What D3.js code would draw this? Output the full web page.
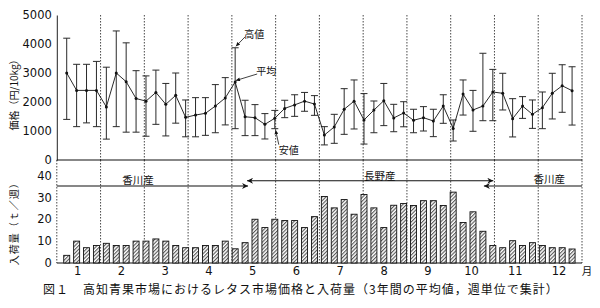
<!DOCTYPE html>
<html>
<head>
<meta charset="utf-8">
<script src="https://cdn.jsdelivr.net/npm/d3@7"></script>
<style>
  body { margin: 0; background: #fff; }
  text { font-family: "DejaVu Sans", "Noto Sans CJK JP", sans-serif; fill: #111; }
  .jp { font-family: "Noto Sans CJK JP", sans-serif; }
</style>
</head>
<body>
<div id="chart"></div>
<script>
// 週ごとの価格（円/10kg）：平均・高値・安値、52週
const avgPrice = [3000,2400,2400,2400,1830,3000,2700,2120,2030,2330,1920,2230,1470,1550,1610,1860,2140,2690,1490,1460,1230,1440,1780,1900,2030,1930,860,1140,1750,2030,1380,1720,2045,1450,1620,1370,1460,1345,1860,1090,2275,1725,1860,2345,2300,1425,1860,1575,1805,2300,2560,2390];
const highPrice = [4200,3300,3300,3400,3200,4450,4040,3080,2900,3100,2640,3000,2070,2150,2150,2600,2840,3870,2060,1910,1600,1710,2060,2250,2330,2220,1150,1575,2460,2760,2290,2035,2640,1920,2010,1750,1840,1750,2250,1380,2760,2400,3680,3125,2990,2115,2185,2070,2345,2990,3285,3215];
const lowPrice = [1400,1150,1280,1150,720,1150,960,960,820,1230,830,1270,800,800,850,940,1210,1080,840,840,725,1080,1460,1505,1680,1540,520,575,885,1070,550,940,1185,975,1145,940,1000,805,1265,655,1550,990,1355,1355,1725,795,1435,1090,1080,1415,1645,1205];
// 入荷量（t/週）
const volume = [3.5,10,7,8,9,8,8,10,10,11,10,8,7,7,8,8,10,6.5,9.3,20,16.2,20,19.4,19.4,16.2,21.2,30.4,25.2,29,22.3,31.3,25.2,16.2,26.4,27.2,26.3,28.5,28.5,26.3,32.4,18.5,23.4,14.5,8,7,10.2,8,9.3,8,7,7,6.4];

const months = ['1','2','3','4','5','6','7','8','9','10','11','12'];
const priceTicks = [0, 1000, 2000, 3000, 4000, 5000];
const volumeTicks = [0, 10, 20, 30, 40];

// 産地の区間（週の位置）
const origins = [
  { name: '香川産', from: 0, to: 19.3, level: 35.2, labelAt: 8.2, labelLevel: 38.4, arrowStart: false, arrowEnd: true },
  { name: '長野産', from: 19.2, to: 44.05, level: 37.6, labelAt: 32.6, labelLevel: 40.2, arrowStart: true, arrowEnd: true },
  { name: '香川産', from: 43.1, to: 53, level: 35.2, labelAt: 49.7, labelLevel: 38.6, arrowStart: true, arrowEnd: false }
];

const width = 600, height = 308;
const nWeeks = avgPrice.length;

const svg = d3.select('#chart').append('svg')
  .attr('width', width).attr('height', height);

const defs = svg.append('defs');
const hatch = defs.append('pattern')
  .attr('id', 'hatch').attr('patternUnits', 'userSpaceOnUse')
  .attr('width', 2.6).attr('height', 2.6)
  .attr('patternTransform', 'rotate(45)');
hatch.append('rect').attr('width', 2.6).attr('height', 2.6).attr('fill', '#fff');
hatch.append('line').attr('x1', 0.6).attr('y1', 0).attr('x2', 0.6).attr('y2', 2.6)
  .attr('stroke', '#333').attr('stroke-width', 0.9);

defs.append('marker').attr('id', 'arr').attr('viewBox', '0 0 10 10')
  .attr('refX', 10).attr('refY', 5).attr('markerWidth', 9).attr('markerHeight', 6)
  .attr('markerUnits', 'userSpaceOnUse').attr('orient', 'auto-start-reverse')
  .append('path').attr('d', 'M0,0L10,5L0,10L3,5Z').attr('fill', '#111');
defs.append('marker').attr('id', 'arrSmall').attr('viewBox', '0 0 10 10')
  .attr('refX', 10).attr('refY', 5).attr('markerWidth', 5).attr('markerHeight', 4)
  .attr('markerUnits', 'userSpaceOnUse').attr('orient', 'auto')
  .append('path').attr('d', 'M0,0L10,5L0,10Z').attr('fill', '#111');

// 週の位置 -> x
const x = d3.scaleLinear().domain([0, nWeeks + 1]).range([56.8, 582]);
const yP = d3.scaleLinear().domain([0, 5000]).range([160, 15]);
const yV = d3.scaleLinear().domain([0, 40]).range([263, 175.5]);
const monthW = (nWeeks + 1) / 12;

// 月の区切り（点線）
const bounds = d3.range(0, 13).map(m => m * monthW);
svg.append('g').selectAll('line.top').data(bounds.slice(1)).join('line')
  .attr('x1', d => x(d)).attr('x2', d => x(d))
  .attr('y1', yP(5000)).attr('y2', yP(0))
  .attr('stroke', '#333').attr('stroke-width', 0.9).attr('stroke-dasharray', '1.5,1.5');
svg.append('g').selectAll('line').data(bounds).join('line')
  .attr('x1', d => x(d)).attr('x2', d => x(d))
  .attr('y1', yP(0)).attr('y2', yV(0))
  .attr('stroke', '#333').attr('stroke-width', 0.9).attr('stroke-dasharray', '1.5,1.5');

// 価格軸
const axP = svg.append('g').attr('transform', `translate(${x(0)},0)`)
  .call(d3.axisLeft(yP).tickValues(priceTicks).tickFormat(d3.format('d')).tickSize(0).tickPadding(5));
axP.select('.domain').attr('stroke', '#222');
axP.selectAll('text').attr('font-size', 11.5).attr('font-family', 'DejaVu Sans');

// 入荷量軸
const axV = svg.append('g').attr('transform', `translate(${x(0)},0)`)
  .call(d3.axisLeft(yV).tickValues(volumeTicks).tickFormat(d3.format('d')).tickSize(0).tickPadding(5));
axV.select('.domain').remove();
axV.selectAll('text').attr('font-size', 11.5).attr('font-family', 'DejaVu Sans');

// 横線
svg.append('line').attr('x1', x(0)).attr('x2', x(nWeeks + 1))
  .attr('y1', yP(0)).attr('y2', yP(0)).attr('stroke', '#111').attr('stroke-width', 1.2);
svg.append('line').attr('x1', x(0)).attr('x2', x(nWeeks + 1))
  .attr('y1', yV(0)).attr('y2', yV(0)).attr('stroke', '#111').attr('stroke-width', 1.2);

// 高値・安値のエラーバー
const wk = d3.range(nWeeks);
const eb = svg.append('g').attr('stroke', '#2a2a2a').attr('stroke-width', 1);
eb.selectAll('line.v').data(wk).join('line')
  .attr('x1', i => x(i + 1)).attr('x2', i => x(i + 1))
  .attr('y1', i => yP(highPrice[i])).attr('y2', i => yP(lowPrice[i]));
eb.selectAll('line.h').data(wk).join('line')
  .attr('x1', i => x(i + 1) - 3.5).attr('x2', i => x(i + 1) + 3.5)
  .attr('y1', i => yP(highPrice[i])).attr('y2', i => yP(highPrice[i]));
eb.selectAll('line.l').data(wk).join('line')
  .attr('x1', i => x(i + 1) - 3.5).attr('x2', i => x(i + 1) + 3.5)
  .attr('y1', i => yP(lowPrice[i])).attr('y2', i => yP(lowPrice[i]));

// 平均値の折れ線
svg.append('path').datum(wk)
  .attr('fill', 'none').attr('stroke', '#111').attr('stroke-width', 0.9)
  .attr('d', d3.line().x(i => x(i + 1)).y(i => yP(avgPrice[i])));
svg.append('g').selectAll('circle').data(wk).join('circle')
  .attr('cx', i => x(i + 1)).attr('cy', i => yP(avgPrice[i])).attr('r', 1.5).attr('fill', '#111');

// 注記（高値・平均・安値）
const notes = [
  { label: '高値', week: 17, value: highPrice[17], dx: 10, dy: -11, tx: 19, ty: -14 },
  { label: '平均', week: 17, value: avgPrice[17], dx: 22, dy: -8, tx: 31, ty: -11 },
  { label: '安値', week: 21, value: lowPrice[21], dx: 4, dy: 16, tx: 14, ty: 21 }
];
notes.forEach(n => {
  const px = x(n.week + 1), py = yP(n.value);
  svg.append('line').attr('x1', px + n.dx).attr('y1', py + n.dy)
    .attr('x2', px + 0.8 * Math.sign(n.dx)).attr('y2', py + 1.5 * Math.sign(n.dy))
    .attr('stroke', '#111').attr('stroke-width', 0.8).attr('marker-end', 'url(#arrSmall)');
  svg.append('text').attr('class', 'jp').attr('x', px + n.tx).attr('y', py + n.ty)
    .attr('text-anchor', 'middle').attr('dominant-baseline', 'central')
    .attr('font-size', 10).text(n.label);
});

// 入荷量の棒（斜線）
svg.append('g').selectAll('rect').data(wk).join('rect')
  .attr('x', i => x(i + 1) - 3).attr('width', 6)
  .attr('y', i => yV(volume[i])).attr('height', i => yV(0) - yV(volume[i]))
  .attr('fill', 'url(#hatch)').attr('stroke', '#111').attr('stroke-width', 0.9);

// 産地の矢印
origins.forEach(o => {
  svg.append('line')
    .attr('x1', x(o.from)).attr('x2', x(o.to))
    .attr('y1', yV(o.level)).attr('y2', yV(o.level))
    .attr('stroke', '#111').attr('stroke-width', 1.1)
    .attr('marker-start', o.arrowStart ? 'url(#arr)' : null)
    .attr('marker-end', o.arrowEnd ? 'url(#arr)' : null);
  svg.append('text').attr('class', 'jp')
    .attr('x', x(o.labelAt)).attr('y', yV(o.labelLevel))
    .attr('text-anchor', 'middle').attr('dominant-baseline', 'central')
    .attr('font-size', 10.5).text(o.name);
});

// 月ラベル
svg.append('g').selectAll('text').data(months).join('text')
  .attr('x', (d, i) => x((i + 0.5) * monthW) - 1).attr('y', 275)
  .attr('text-anchor', 'middle').attr('font-size', 11.5).text(d => d);
svg.append('text').attr('class', 'jp').attr('x', 587).attr('y', 275)
  .attr('text-anchor', 'middle').attr('font-size', 10.5).text('月');

// 軸タイトル
svg.append('text').attr('class', 'jp')
  .attr('transform', `translate(13,${(yP(0) + yP(5000)) / 2 + 5}) rotate(-90)`)
  .attr('text-anchor', 'middle').attr('dominant-baseline', 'central')
  .attr('font-size', 10).text('価格（円/10kg）');
svg.append('text').attr('class', 'jp')
  .attr('transform', `translate(13,${(yV(0) + yV(40)) / 2 + 2}) rotate(-90)`)
  .attr('text-anchor', 'middle').attr('dominant-baseline', 'central')
  .attr('font-size', 10).attr('letter-spacing', 1).text('入荷量（ｔ／週）');

// 図のタイトル
svg.append('text').attr('class', 'jp').attr('x', 43).attr('y', 294)
  .attr('font-size', 12).attr('letter-spacing', 1).text('図１');
svg.append('text').attr('class', 'jp').attr('x', 83).attr('y', 294)
  .attr('font-size', 12).attr('letter-spacing', 1)
  .text('高知青果市場におけるレタス市場価格と入荷量（3年間の平均値，週単位で集計）');
</script>
</body>
</html>
